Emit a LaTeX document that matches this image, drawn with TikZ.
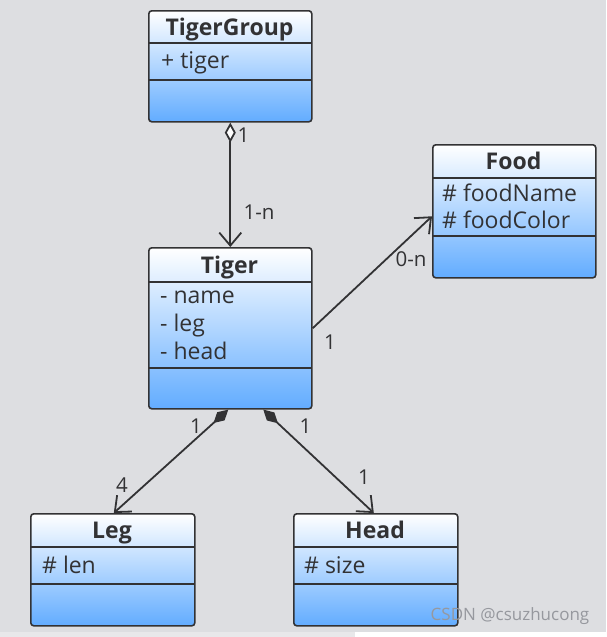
\documentclass[tikz,border=0pt]{standalone}
\usepackage{fontspec}
\setmainfont{Open Sans}
\usetikzlibrary{arrows.meta,calc}
\definecolor{bgcol}{RGB}{221,222,225}
\definecolor{ink}{RGB}{50,50,52}
\definecolor{boxbot}{RGB}{98,172,255}
\definecolor{barcol}{RGB}{232,232,234}
\definecolor{wmcol}{RGB}{150,152,158}
\begin{document}
\begin{tikzpicture}[x=1pt,y=-1pt,
  classbox/.style={draw=ink, line width=1.6pt, rounded corners=3pt, top color=white, bottom color=boxbot, inner sep=0pt, anchor=north west},
  umltitle/.style={font=\fontsize{23}{26}\selectfont\bfseries, text=ink, inner sep=0pt, anchor=base},
  umlattr/.style={font=\fontsize{23}{26}\selectfont, text=ink, inner sep=0pt, anchor=base west},
  umllabel/.style={font=\fontsize{20.5}{24}\selectfont, text=ink, inner sep=0pt},
  umlsep/.style={draw=ink, line width=1.6pt},
  umlconn/.style={draw=ink, line width=1.8pt},
  barb/.style={-{Straight Barb[length=13pt,width=22pt]}},
  aggr/.style={{Diamond[length=20pt,width=11pt,fill=white]}-{Straight Barb[length=13pt,width=22pt]}},
  comp/.style={{Diamond[length=20pt,width=11pt]}-{Straight Barb[length=13pt,width=22pt]}}
]
\useasboundingbox (0,0) rectangle (606,637);
\fill[bgcol] (0,0) rectangle (606,632);
\fill[white] (0,632) rectangle (606,637);
\fill[barcol] (0,632) rectangle (355,637);

% TigerGroup
\node[classbox, minimum width=163pt, minimum height=111pt] (tg) at (148,10) {};
\draw[umlsep] (148,43) -- (311,43);
\draw[umlsep] (148,80) -- (311,80);
\node[umltitle] (tgt) at (229.5,35) {TigerGroup};
\node[umlattr] (tga1) at (161,68) {+ tiger};

% Tiger
\node[classbox, minimum width=163pt, minimum height=161pt] (tiger) at (148,247) {};
\draw[umlsep] (148,282) -- (311,282);
\draw[umlsep] (148,368) -- (311,368);
\node[umltitle] (tigt) at (229.5,273) {Tiger};
\node[umlattr] (tiga1) at (160,303) {- name};
\node[umlattr] (tiga2) at (160,331) {- leg};
\node[umlattr] (tiga3) at (160,359) {- head};

% Food
\node[classbox, minimum width=163pt, minimum height=133pt] (food) at (432,144) {};
\draw[umlsep] (432,178) -- (595,178);
\draw[umlsep] (432,236) -- (595,236);
\node[umltitle] (foodt) at (513.5,169) {Food};
\node[umlattr] (fooda1) at (442,201) {\# foodName};
\node[umlattr] (fooda2) at (442,228) {\# foodColor};

% Leg
\node[classbox, minimum width=164pt, minimum height=112pt] (leg) at (30,513) {};
\draw[umlsep] (30,547) -- (194,547);
\draw[umlsep] (30,584) -- (194,584);
\node[umltitle] (legt) at (112,538) {Leg};
\node[umlattr] (lega1) at (42,573) {\# len};

% Head
\node[classbox, minimum width=164pt, minimum height=112pt] (head) at (293,513) {};
\draw[umlsep] (293,547) -- (457,547);
\draw[umlsep] (293,584) -- (457,584);
\node[umltitle] (headt) at (375,538) {Head};
\node[umlattr] (heada1) at (304,573) {\# size};

% connectors
\draw[umlconn, aggr] (tg.south) -- (tiger.north);
\draw[umlconn, barb] (tiger.east) -- ([yshift=-5pt]food.west);
\draw[umlconn, comp] ([xshift=-2pt]tiger.south) -- ([xshift=1pt]leg.north);
\draw[umlconn, comp] ([xshift=33pt]tiger.south) -- ([xshift=-2pt]head.north);

% multiplicities
\node[umllabel] (m1) at (243.5,135.5) {1};
\node[umllabel] (m2) at (259,212) {1-n};
\node[umllabel] (m3) at (411,259) {0-n};
\node[umllabel] (m4) at (330,342) {1};
\node[umllabel] (m5) at (196,426) {1};
\node[umllabel] (m6) at (122,485) {4};
\node[umllabel] (m7) at (305.5,426) {1};
\node[umllabel] (m8) at (364,477) {1};

% watermark
\node[font=\fontsize{17}{20}\selectfont, text=wmcol, inner sep=0pt] (wm) at (510,616) {CSDN @csuzhucong};
\end{tikzpicture}
\end{document}
